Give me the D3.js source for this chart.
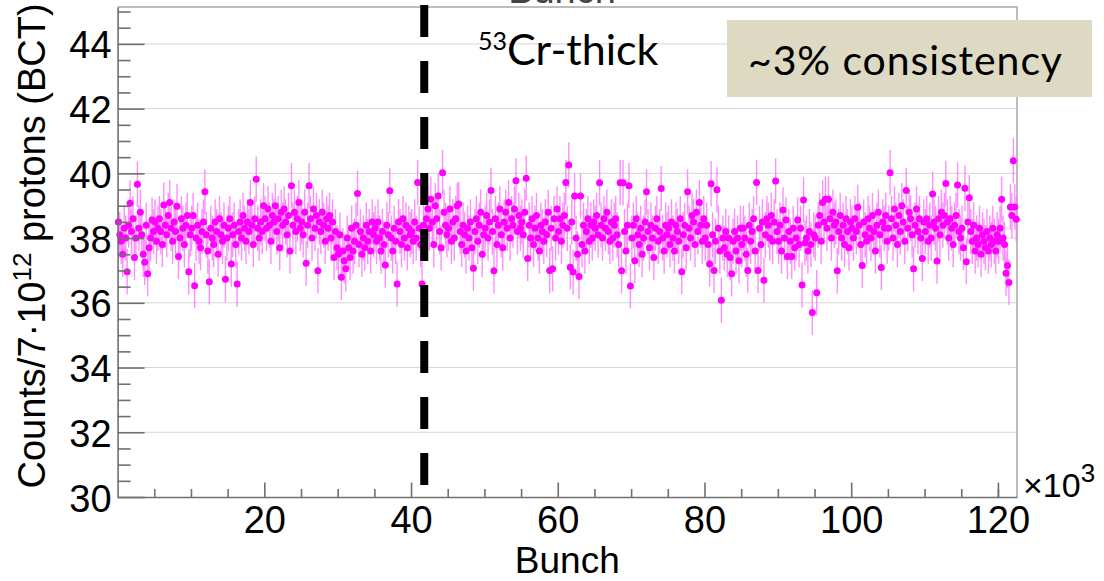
<!DOCTYPE html>
<html lang="en">
<head>
  <meta charset="UTF-8">
  <title>53Cr-thick counts per bunch</title>
  <style>
    html, body { margin: 0; padding: 0; background: #fff; overflow: hidden; }
    svg { display: block; }
  </style>
</head>
<body>
  <div class="chart"></div>
  <script src="https://cdnjs.cloudflare.com/ajax/libs/d3/7.8.5/d3.min.js"></script>
  <script>
    // bunch bins of 0.2 (x10^3), one line = 5k bunches
    const binWidth = 0.2;
    const counts = [
      38.5,38.1,37.9,37.5,38.3,38.0,36.96,38.4,39.08,38.2,38.6,37.4,38.0,39.66,38.3,38.8,38.1,37.5,37.25,38.4,36.9,37.7,38.0,38.56,38.2,
      38.5,37.9,38.3,38.6,38.2,37.8,39.02,38.4,38.1,38.7,39.1,38.3,37.9,38.5,38.2,38.98,37.43,38.0,38.6,38.3,37.8,38.4,38.7,36.96,38.1,
      38.3,38.7,36.53,38.0,38.4,37.9,37.7,38.2,38.5,39.43,38.1,37.6,36.65,38.3,38.0,37.8,38.5,38.2,37.5,38.6,38.1,37.9,38.4,36.73,38.0,
      38.3,38.6,37.2,38.1,38.4,37.8,36.58,38.2,38.5,38.0,38.7,38.3,37.9,38.5,38.2,39.1,38.4,37.8,38.6,39.82,38.3,38.0,38.5,38.2,39.0,
      38.6,38.3,38.9,38.4,37.9,38.7,38.5,39.0,38.2,38.6,37.7,38.8,38.4,38.9,38.5,38.1,38.7,37.6,39.62,38.4,38.8,38.2,38.6,39.1,38.3,
      38.5,38.1,38.8,37.22,38.4,39.62,38.6,38.0,38.9,38.3,38.7,36.99,38.5,38.2,38.8,38.4,37.9,38.6,38.3,38.7,38.0,38.5,37.4,38.2,37.7,
      37.5,38.1,36.79,37.6,37.3,37.05,38.0,37.7,37.4,38.3,37.6,37.9,38.4,39.38,37.8,38.2,37.5,38.0,37.7,38.4,37.9,38.2,37.6,38.5,38.1,
      38.3,37.9,38.5,38.0,37.6,38.2,37.8,37.17,38.4,38.1,39.46,38.0,37.6,38.3,37.9,36.58,38.5,38.2,37.8,38.6,38.0,38.4,37.7,38.3,38.1,
      38.2,37.9,38.5,38.0,39.72,38.3,37.8,36.58,38.4,38.1,38.6,38.9,38.3,39.2,38.5,37.8,39.0,38.6,39.3,38.2,37.7,40.02,38.8,38.4,38.1,
      38.3,38.9,37.9,38.5,38.0,38.6,39.0,39.05,38.2,37.8,38.4,38.1,37.6,38.3,38.0,38.5,37.7,37.07,38.2,38.6,37.9,38.4,38.8,37.5,38.1,
      38.3,38.7,38.0,38.5,39.47,38.2,36.99,38.6,37.8,38.4,38.9,38.1,37.7,38.5,38.8,38.3,39.1,38.0,38.6,38.4,38.9,39.77,38.2,38.7,38.3,
      38.5,38.1,38.8,39.85,37.37,38.4,38.0,38.6,37.8,38.3,38.7,38.0,37.6,38.4,38.2,37.9,38.5,38.1,38.8,37.0,38.3,37.05,38.6,38.0,38.9,
      38.2,38.6,37.9,38.4,38.7,39.72,38.3,40.26,37.1,38.5,36.95,39.3,38.0,37.5,36.81,39.3,37.8,38.4,37.6,38.2,38.6,37.9,38.4,38.0,38.5,
      38.3,38.7,38.1,39.71,38.4,38.0,38.6,38.3,38.8,38.2,37.9,38.5,38.0,38.4,38.6,38.1,37.8,39.71,36.99,39.71,38.2,37.6,38.4,39.62,36.52,
      38.0,38.4,37.3,38.6,38.1,37.8,38.3,37.5,38.0,38.5,39.43,38.2,37.7,38.4,38.0,37.4,38.3,38.6,37.9,38.2,39.53,38.0,37.6,38.4,38.1,
      38.3,37.8,38.5,38.0,37.6,38.4,38.2,37.9,38.6,36.96,38.1,38.4,37.7,39.43,38.3,38.0,38.7,38.5,37.8,38.8,38.2,39.1,38.4,37.9,38.6,
      38.0,38.4,37.8,37.2,39.68,38.1,37.0,37.9,39.49,38.3,37.6,36.08,38.0,37.7,38.2,37.5,38.0,37.4,36.9,37.9,38.2,37.6,38.0,37.3,38.3,
      37.8,38.3,38.0,37.5,37.0,38.4,37.9,38.2,38.6,37.6,39.72,37.0,38.3,37.8,38.5,36.7,38.1,38.6,38.4,38.0,38.7,37.9,38.5,39.76,38.2,
      37.9,38.4,37.6,38.87,38.0,38.56,37.43,38.2,37.9,37.43,38.3,37.7,38.0,38.56,37.8,38.3,36.55,39.18,37.85,38.0,37.6,38.2,37.8,35.7,38.1,
      38.0,36.31,38.4,38.7,37.9,39.1,38.5,39.2,38.3,39.2,38.6,38.0,38.8,38.4,38.5,36.99,38.2,38.7,38.0,38.4,37.8,38.6,38.2,37.7,38.5,
      38.3,38.0,38.6,38.2,38.95,38.4,37.8,37.15,38.5,38.1,37.9,38.6,38.3,38.0,38.7,38.2,37.6,38.4,38.8,38.1,37.09,38.5,38.3,38.7,37.9,
      38.3,40.02,38.6,38.0,38.9,38.4,37.8,38.7,38.2,39.0,38.5,37.9,39.47,38.3,38.8,38.6,38.1,37.05,38.4,38.9,38.2,38.6,38.0,37.37,38.5,
      38.2,38.6,37.9,38.4,38.0,39.36,38.5,38.3,37.29,38.6,38.1,38.8,38.4,38.7,39.69,38.5,38.0,38.6,38.3,37.8,38.4,38.7,39.64,38.2,38.0,
      38.3,37.7,39.54,37.27,38.5,39.25,38.2,37.9,38.4,37.6,38.0,37.8,38.3,37.5,38.1,37.9,37.7,38.2,37.6,38.0,37.8,38.3,37.9,37.6,38.1,
      37.9,38.3,39.2,38.0,37.8,36.91,37.15,36.63,38.96,38.7,40.39,38.96,38.58
    ];
    const countErr = 0.7;

    const xDomain = [0, 122.6];
    const yDomain = [30, 45.14];
    const xMajor = [20, 40, 60, 80, 100, 120];
    const xMinor = [5, 10, 15, 25, 30, 35, 45, 50, 55, 65, 70, 75, 85, 90, 95, 105, 110, 115, 120];
    const yMajor = [30, 32, 34, 36, 38, 40, 42, 44];
    const yMinor = [30.5, 31, 31.5, 32.5, 33, 33.5, 34.5, 35, 35.5, 36.5, 37, 37.5, 38.5, 39, 39.5,
                    40.5, 41, 41.5, 42.5, 43, 43.5, 44.5, 45];
    const divider = { bunch: 41.8, from: 30.37, to: 45.2 };

    const width = 1104, height = 581;
    const margin = { top: 7, right: 87, bottom: 84, left: 117.6 };
    const axisFont = '"Liberation Sans", Arial, Helvetica, sans-serif';
    const noteFont = 'Lato, "Open Sans", sans-serif';
    const axisColor = '#707070';

    const svg = d3.select('.chart').append('svg')
      .attr('width', width)
      .attr('height', height);

    const x = d3.scaleLinear().domain(xDomain).range([margin.left, width - margin.right]);
    const y = d3.scaleLinear().domain(yDomain).range([height - margin.bottom, margin.top]);

    // grid
    svg.append('g')
      .selectAll('line')
      .data(yMajor.filter(v => v > yDomain[0]))
      .join('line')
      .attr('x1', x.range()[0]).attr('x2', x.range()[1])
      .attr('y1', d => y(d)).attr('y2', d => y(d))
      .attr('stroke', '#d6d6d6')
      .attr('stroke-width', 1);

    // frame (top / right)
    svg.append('path')
      .attr('d', `M${x.range()[0]},${y.range()[1]}H${x.range()[1]}V${y.range()[0]}`)
      .attr('fill', 'none')
      .attr('stroke', '#a8a8a8')
      .attr('stroke-width', 1.5);

    // points with error bars
    const pts = counts.map((v, i) => ({ b: (i + 0.5) * binWidth, v }));
    const plot = svg.append('g');
    plot.selectAll('line.err')
      .data(pts)
      .join('line')
      .attr('class', 'err')
      .attr('x1', d => x(d.b)).attr('x2', d => x(d.b))
      .attr('y1', d => y(d.v - countErr)).attr('y2', d => y(d.v + countErr))
      .attr('stroke', '#ff70ff')
      .attr('stroke-opacity', 0.8)
      .attr('stroke-width', 1.4);
    plot.selectAll('circle')
      .data(pts)
      .join('circle')
      .attr('cx', d => x(d.b))
      .attr('cy', d => y(d.v))
      .attr('r', 3.5)
      .attr('fill', '#ff00ff');

    // axes
    const yAxis = svg.append('g')
      .attr('transform', `translate(${margin.left},0)`)
      .call(d3.axisLeft(y).tickValues(yMajor).tickSizeInner(-27).tickSizeOuter(0).tickPadding(6));
    svg.append('g')
      .attr('transform', `translate(${margin.left},0)`)
      .call(d3.axisLeft(y).tickValues(yMinor).tickSizeInner(-13).tickSizeOuter(0).tickFormat(''))
      .call(g => g.select('.domain').remove());

    const xAxis = svg.append('g')
      .attr('transform', `translate(0,${height - margin.bottom})`)
      .call(d3.axisBottom(x).tickValues(xMajor).tickSizeInner(-14.5).tickSizeOuter(0));
    svg.append('g')
      .attr('transform', `translate(0,${height - margin.bottom})`)
      .call(d3.axisBottom(x).tickValues(xMinor).tickSizeInner(-8).tickSizeOuter(0).tickFormat(''))
      .call(g => g.select('.domain').remove());

    svg.selectAll('.domain, .tick line')
      .attr('stroke', axisColor)
      .attr('stroke-width', 1.6);

    yAxis.selectAll('text')
      .attr('font-family', axisFont).attr('font-size', 38).attr('fill', '#000')
      .attr('dy', null).attr('y', 14);
    xAxis.selectAll('text')
      .attr('font-family', axisFont).attr('font-size', 38).attr('fill', '#000')
      .attr('dy', null).attr('y', 36);

    // axis titles
    svg.append('text')
      .attr('x', (x.range()[0] + x.range()[1]) / 2)
      .attr('y', 573)
      .attr('text-anchor', 'middle')
      .attr('font-family', axisFont).attr('font-size', 37)
      .text('Bunch');
    // histogram title, cut by the top edge
    svg.append('text')
      .attr('x', 562)
      .attr('y', 3)
      .attr('text-anchor', 'middle')
      .attr('font-family', axisFont).attr('font-size', 38)
      .attr('fill', '#444')
      .text('Bunch');

    const yTitle = svg.append('text')
      .attr('transform', `translate(45,246) rotate(-90)`)
      .attr('text-anchor', 'middle')
      .attr('font-family', axisFont).attr('font-size', 38);
    yTitle.append('tspan').text('Counts/7\u00b710');
    yTitle.append('tspan').attr('font-size', 26).attr('dy', -14).text('12');
    yTitle.append('tspan').attr('dy', 14).text(' protons (BCT)');

    const mult = svg.append('text')
      .attr('x', 1023).attr('y', 497)
      .attr('font-family', axisFont).attr('font-size', 34);
    mult.append('tspan').text('\u00d710');
    mult.append('tspan').attr('font-size', 26).attr('dy', -15).text('3');

    // dashed divider
    svg.append('line')
      .attr('x1', x(divider.bunch)).attr('x2', x(divider.bunch))
      .attr('y1', y(divider.to)).attr('y2', y(divider.from))
      .attr('stroke', '#000')
      .attr('stroke-width', 8)
      .attr('stroke-dasharray', '32,24');

    // annotations
    const label = svg.append('text')
      .attr('x', 478).attr('y', 65)
      .attr('font-family', noteFont).attr('fill', '#000');
    label.append('tspan').attr('font-size', 25).attr('dy', -15).text('53');
    label.append('tspan').attr('font-size', 43).attr('dy', 15).text('Cr-thick');

    svg.append('rect')
      .attr('x', 727).attr('y', 20)
      .attr('width', 365).attr('height', 77)
      .attr('fill', '#ddd9c3');
    svg.append('text')
      .attr('x', 748).attr('y', 75)
      .attr('font-family', noteFont).attr('font-size', 41)
      .attr('textLength', 314)
      .attr('fill', '#000')
      .text('~3% consistency');
  </script>
</body>
</html>
